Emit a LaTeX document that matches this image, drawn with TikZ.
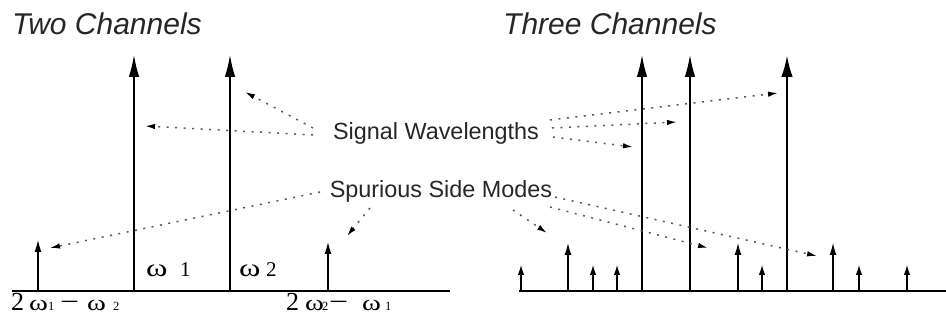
\documentclass[tikz,border=0pt]{standalone}
\usepackage{fontspec}
\usepackage{graphicx}
\setmainfont{Liberation Sans}
\newfontfamily\serifw{Liberation Serif}
\newcommand{\wideom}{\scalebox{1.3}[1]{ω}}
\newcommand{\wideminus}{\scalebox{1.3}[1]{−}}
\usetikzlibrary{arrows.meta}
\begin{document}
\begin{tikzpicture}[x=1pt,y=-1pt,
  axisline/.style={line width=1.3pt},
  bigarr/.style={line width=1.3pt,-{Latex[length=22pt,width=10.5pt]}},
  thickarr/.style={line width=2.3pt,-{Latex[length=22pt,width=11.5pt]}},
  midarr/.style={line width=1.1pt,-{Latex[length=12pt,width=7pt]}},
  smallarr/.style={line width=1.1pt,-{Latex[length=10pt,width=6.5pt]}},
  dotarr/.style={black!65,line width=1.5pt,dash pattern=on 2pt off 6.5pt,-{Latex[length=10pt,width=5.5pt,black]}},
  titletxt/.style={font=\fontsize{30}{32}\selectfont\itshape,anchor=base west,inner sep=0pt,text=black!85},
  lbl/.style={font=\fontsize{23.4}{26}\selectfont,anchor=base,inner sep=0pt,text=black!85},
  sw/.style={anchor=base west,inner sep=0pt},
  big/.style={sw,font=\serifw\fontsize{26}{28}\selectfont},
  om/.style={sw,font=\serifw\fontsize{22}{24}\selectfont},
  topom/.style={sw,font=\serifw\fontsize{25}{27}\selectfont},
  tiny/.style={sw,font=\serifw\fontsize{12.5}{14}\selectfont},
  mid/.style={sw,font=\serifw\fontsize{21}{23}\selectfont},
]
\useasboundingbox (0,0) rectangle (946,320);

% titles
\node[titletxt] (t2) at (12,35) {Two Channels};
\node[titletxt] (t3) at (503,35) {Three Channels};

% middle labels
\node[lbl] (sig) at (436,140) {Signal Wavelengths};
\node[lbl] (spur) at (441,198) {Spurious Side Modes};

% baselines
\coordinate (L0) at (12,291);  \coordinate (L1) at (450,291);
\coordinate (R0) at (519,291); \coordinate (R1) at (946,291);
\draw[axisline] (L0) -- (L1);
\draw[axisline] (R0) -- (R1);

% left panel arrows
\foreach \n/\x/\y/\s in {la/38/240/midarr, lb/134/55/bigarr, lc/230/55/bigarr, ld/328/242/midarr}{
  \coordinate (\n0) at (\x,291);
  \coordinate (\n1) at (\x,\y);
  \draw[\s] (\n0) -- (\n1);
}
% right panel arrows
\foreach \n/\x/\y/\s in {ra/521/265/smallarr, rb/568/243/midarr, rc/593/265/smallarr, rd/617/265/smallarr,
  re/642/55/bigarr, rf/690/55/bigarr, rg/738/243/midarr, rh/762/265/smallarr, ri/787/55/thickarr,
  rj/833/243/midarr, rk/859/265/smallarr, rl/907/265/smallarr}{
  \coordinate (\n0) at (\x,291);
  \coordinate (\n1) at (\x,\y);
  \draw[\s] (\n0) -- (\n1);
}

% omega labels above the axis
\node[topom] (w1) at (146,277) {\wideom};
\node[mid] (w1s) at (180,277) {1};
\node[topom] (w2) at (239,277) {\wideom};
\node[mid] (w2s) at (266,277) {2};

% combination labels below the axis
\node[big] (c1a) at (11,311) {2};
\node[om] (c1b) at (29,311) {\wideom};
\node[tiny] (c1c) at (48,311) {1};
\node[big] (c1d) at (60,311) {\wideminus};
\node[om] (c1e) at (87,311) {\wideom};
\node[tiny] (c1f) at (113,311) {2};

\node[big] (c2a) at (286,311) {2};
\node[om] (c2b) at (305,311) {\wideom};
\node[tiny] (c2c) at (322,311) {2};
\node[big] (c2d) at (329,311) {\wideminus};
\node[om] (c2e) at (362,311) {\wideom};
\node[tiny] (c2f) at (385,311) {1};

% signal wavelength pointers
\coordinate (s1) at (313,128); \coordinate (s1t) at (245,92);
\coordinate (s2) at (313,135); \coordinate (s2t) at (145,126);
\coordinate (s3) at (550,120); \coordinate (s3t) at (778,93);
\coordinate (s4) at (552,128); \coordinate (s4t) at (677,122);
\coordinate (s5) at (553,137); \coordinate (s5t) at (633,147);
\draw[dotarr] (s1) -- (s1t);
\draw[dotarr] (s2) -- (s2t);
\draw[dotarr] (s3) -- (s3t);
\draw[dotarr] (s4) -- (s4t);
\draw[dotarr] (s5) -- (s5t);

% spurious side mode pointers
\coordinate (p1) at (320,192); \coordinate (p1t) at (50,248);
\coordinate (p2) at (370,208); \coordinate (p2t) at (347,236);
\coordinate (p3) at (513,210); \coordinate (p3t) at (547,233);
\coordinate (p4) at (550,207); \coordinate (p4t) at (708,248);
\coordinate (p5) at (555,197); \coordinate (p5t) at (817,256);
\draw[dotarr] (p1) -- (p1t);
\draw[dotarr] (p2) -- (p2t);
\draw[dotarr] (p3) -- (p3t);
\draw[dotarr] (p4) -- (p4t);
\draw[dotarr] (p5) -- (p5t);
\end{tikzpicture}
\end{document}
